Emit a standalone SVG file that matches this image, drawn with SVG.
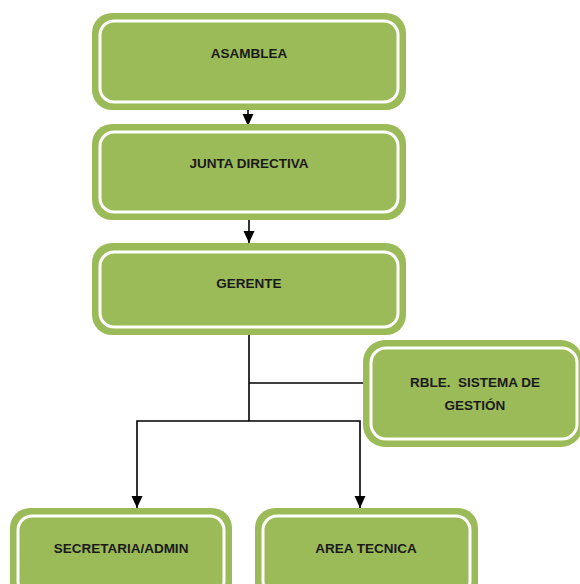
<svg xmlns="http://www.w3.org/2000/svg" width="580" height="584" viewBox="0 0 580 584">
<style>
.outer{fill:#9BBB59;stroke:none}
.inner{fill:none;stroke:#ffffff;stroke-width:3}
.lbl{font-family:"Liberation Sans",Arial,sans-serif;font-weight:bold;font-size:13.5px;fill:#1a1a1a;text-anchor:middle}
.conn{fill:none;stroke:#000;stroke-width:1.6}
</style>
<defs>
<marker id="arr" viewBox="0 0 12 12" refX="12" refY="6" markerWidth="12" markerHeight="12" markerUnits="userSpaceOnUse" orient="auto">
<path d="M0,0.5 L12,6 L0,11.5 z" fill="#000"/>
</marker>
</defs>
<rect width="580" height="584" fill="#ffffff"/>
<g id="connectors">
<line class="conn" x1="248" y1="110" x2="248" y2="126" marker-end="url(#arr)"/>
<line class="conn" x1="249" y1="212" x2="249" y2="243" marker-end="url(#arr)"/>
<polyline class="conn" points="249,335 249,421"/>
<line class="conn" x1="249" y1="383" x2="366" y2="383"/>
<polyline class="conn" points="249,421 137,421 137,508" marker-end="url(#arr)"/>
<polyline class="conn" points="249,421 360,421 360,508" marker-end="url(#arr)"/>
</g>
<g id="asamblea">
<rect class="outer" x="92" y="13" width="314" height="97" rx="20"/>
<rect class="inner" x="100" y="21" width="298" height="81" rx="14"/>
<text class="lbl" x="249" y="58">ASAMBLEA</text>
</g>
<g id="junta">
<rect class="outer" x="92" y="124" width="314" height="96" rx="20"/>
<rect class="inner" x="100" y="132" width="298" height="80" rx="14"/>
<text class="lbl" x="249" y="168">JUNTA DIRECTIVA</text>
</g>
<g id="gerente">
<rect class="outer" x="92" y="243" width="314" height="92" rx="20"/>
<rect class="inner" x="100" y="252" width="298" height="75" rx="14"/>
<text class="lbl" x="249" y="288">GERENTE</text>
</g>
<g id="rble">
<rect class="outer" x="363" y="340" width="220" height="107" rx="22"/>
<rect class="inner" x="371" y="348" width="206" height="91" rx="15"/>
<text class="lbl" x="475" y="387" xml:space="preserve">RBLE.  SISTEMA DE</text>
<text class="lbl" x="475" y="410">GESTIÓN</text>
</g>
<g id="secretaria">
<rect class="outer" x="10" y="508" width="222" height="95" rx="20"/>
<rect class="inner" x="18" y="516" width="206" height="79" rx="14"/>
<text class="lbl" x="121" y="553">SECRETARIA/ADMIN</text>
</g>
<g id="area">
<rect class="outer" x="255" y="508" width="223" height="95" rx="20"/>
<rect class="inner" x="263" y="516" width="207" height="79" rx="14"/>
<text class="lbl" x="366" y="553">AREA TECNICA</text>
</g>
</svg>
